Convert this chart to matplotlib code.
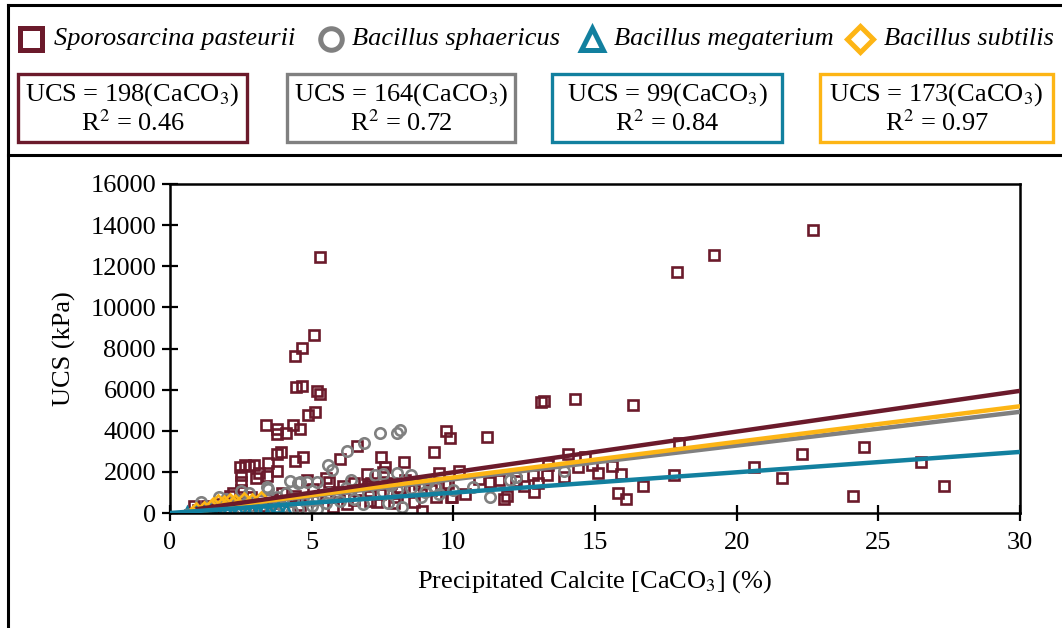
import matplotlib
matplotlib.use('Agg')
import matplotlib.pyplot as plt
from matplotlib.lines import Line2D
from matplotlib.patches import Rectangle
import numpy as np

plt.rcParams['font.family'] = ['Liberation Serif', 'DejaVu Serif']
plt.rcParams['mathtext.fontset'] = 'stix'

# Sporosarcina pasteurii (squares)
sp_x = [5.3, 5.08, 4.66, 4.41, 4.45, 4.66, 5.2, 5.3, 4.87, 5.1,
        3.4, 3.78, 3.78, 4.1, 4.35, 4.6,
        3.78, 3.9, 4.4, 4.7, 3.45, 3.77,
        2.47, 2.65, 2.8, 2.97, 3.14, 3.04, 3.42, 2.5, 2.5, 2.5, 2.53, 2.22, 2.12, 2.85,
        4.84, 4.4, 3.95, 3.53, 3.18, 0.85, 1.3, 1.76, 2.65, 5.05,
        6.0, 6.6, 7.45, 7.6, 8.26, 9.3, 9.74, 9.88, 5.5, 8.9,
        5.6, 6.1, 6.5, 6.95, 7.1, 7.5, 7.8, 8.1, 8.6, 8.6, 9.4, 9.8, 9.95, 9.5,
        5.75, 6.25, 7.06, 7.9, 7.3,
        11.2, 13.1, 13.2, 14.3, 16.35, 17.9, 19.2, 22.7,
        17.97, 17.8, 20.6, 21.6, 22.3, 24.5, 24.1, 26.5, 27.3,
        14.05, 13.9, 14.4, 14.65, 14.9, 15.1, 15.6, 15.9, 15.8, 16.1, 16.7,
        10.2, 9.7, 9.9, 10.4, 10.9, 11.3, 11.6, 11.9, 11.8, 12.2, 12.8, 12.85,
        13.0, 13.3, 13.35, 12.5,
        5.9, 6.3, 6.7, 7.0, 7.4, 8.0, 8.3, 8.8, 9.2, 3.6, 4.2, 4.6, 5.2, 5.5,
        6.5, 1.0, 1.5, 2.0, 2.8, 3.2]
sp_y = [12440, 8650, 8020, 7630, 6120, 6200, 5950, 5800, 4760, 4910,
        4280, 4080, 3840, 3890, 4280, 4080,
        2870, 2960, 2530, 2720, 2430, 2040,
        2230, 2330, 2280, 2330, 1940, 1700, 1800, 1850, 1510, 1120, 780, 970, 830, 780,
        1600, 830, 970, 680, 650, 340, 340, 440, 490, 1170,
        2620, 3260, 2720, 2230, 2480, 2960, 3980, 3640, 1700, 100,
        1500, 1310, 1460, 1890, 1460, 2000, 1460, 1210, 1120, 530, 780, 1460, 780, 1940,
        290, 440, 580, 500, 520,
        3690, 5400, 5450, 5540, 5250, 11700, 12550, 13750,
        3400, 1850, 2230, 1700, 2850, 3200, 850, 2500, 1300,
        2870, 1750, 2240, 2720, 2330, 1940, 2280, 1900, 970, 680, 1310,
        2040, 1360, 780, 920, 1650, 1510, 1600, 830, 680, 1550, 1850, 1020,
        1450, 1850, 2330, 1300,
        1000, 900, 1100, 1300, 900, 800, 1600, 1400, 1100, 500, 600, 400, 700, 800,
        650, 150, 200, 250, 300, 350]

# Bacillus sphaericus (circles)
bs_x = [1.1, 1.73, 1.98, 2.5, 2.8, 3.42, 3.45, 4.24, 4.5, 5.2, 4.1, 3.78, 3.2, 4.85,
        4.35, 2.2, 1.5, 2.6, 1.9,
        7.4, 8.0, 8.1, 6.85, 6.25, 5.58, 5.7, 4.84, 7.24, 7.5, 8.0, 8.5, 9.35, 6.8,
        7.7, 8.2, 4.6, 5.05, 6.4, 8.86,
        10.7, 11.3, 12.0, 12.2, 13.9,
        2.0, 2.5, 3.0, 3.5, 4.0, 4.5, 5.0, 5.5, 6.0, 6.5, 7.0, 7.5, 8.0, 8.5, 9.0,
        9.5, 10.0, 6.2, 5.6, 7.8, 9.1, 3.7, 4.3, 5.2]
bs_y = [530, 780, 680, 1070, 970, 1260, 1150, 1560, 1460, 1510, 970, 800, 630, 650,
        650, 390, 300, 450, 400,
        3890, 3890, 4030, 3400, 3010, 2330, 2090, 1510, 1850, 1890, 1940, 1850, 1260, 440,
        500, 290, 1500, 630, 1600, 780,
        1260, 780, 1600, 1750, 2040,
        200, 250, 300, 400, 300, 200, 350, 500, 600, 700, 900, 1000, 1100, 1200, 1000,
        900, 1100, 1200, 950, 1350, 1500, 150, 100, 200]

# Bacillus megaterium (triangles)
bm_x = [0.6, 0.9, 1.2, 1.4, 1.7, 2.0, 2.2, 2.4, 2.7, 2.9, 3.1, 3.3, 3.5, 3.8, 4.1, 1.0]
bm_y = [30, 60, 40, 90, 70, 110, 60, 150, 120, 200, 90, 230, 160, 280, 200, 120]

# Bacillus subtilis (diamonds)
bsu_x = [0.9, 1.2, 1.5, 1.7, 1.9, 2.1, 2.3, 2.6, 2.9, 3.2]
bsu_y = [180, 250, 420, 600, 520, 640, 580, 700, 650, 750]

names = ['Sporosarcina pasteurii', 'Bacillus sphaericus', 'Bacillus megaterium', 'Bacillus subtilis']
colors = ['#6B1A2B', '#808080', '#12809F', '#FDB515']
markers = ['s', 'o', '^', 'D']
slopes = [198, 164, 99, 173]
r2 = ['0.46', '0.72', '0.84', '0.97']
line_start = [0.9, 0.5, 0.0, 0.7]

W, H = 1062, 628
fig = plt.figure(figsize=(10.62, 6.28), dpi=100)
ax = fig.add_axes([170 / W, 1 - 513 / H, 850 / W, 329 / H])

xs = [sp_x, bs_x, bm_x, bsu_x]
ys = [sp_y, bs_y, bm_y, bsu_y]
for i in range(4):
    ms = 7.5 if markers[i] != 'D' else 6.5
    ax.plot(xs[i], ys[i], linestyle='none', marker=markers[i], ms=ms, mfc='none',
            mec=colors[i], mew=1.9, zorder=2 + i * 0.1)

# linear fits through the origin
for i in [1, 3, 0, 2]:
    lx = np.array([line_start[i], 30])
    ax.plot(lx, slopes[i] * lx, color=colors[i], lw=3.2, zorder=4, solid_capstyle='butt')

ax.set_xlim(0, 30)
ax.set_ylim(0, 16000)
ax.set_xticks([0, 5, 10, 15, 20, 25, 30])
ax.set_yticks(np.arange(0, 16001, 2000))
ax.tick_params(direction='inout', length=12, width=1.6, labelsize=19, pad=4)
ax.tick_params(axis='x', pad=8)
for s in ax.spines.values():
    s.set_linewidth(1.8)
ax.set_xlabel('Precipitated Calcite [CaCO$_3$] (%)', fontsize=19, labelpad=10)
ax.set_ylabel('UCS (kPa)', fontsize=19, labelpad=10)

# outer frame lines
fig.add_artist(Line2D([8 / W, 8 / W], [0, 1 - 5 / H], color='black', lw=2.2, transform=fig.transFigure))
fig.add_artist(Line2D([8 / W, 1], [1 - 5 / H, 1 - 5 / H], color='black', lw=2.2, transform=fig.transFigure))
fig.add_artist(Line2D([8 / W, 1], [1 - 155 / H, 1 - 155 / H], color='black', lw=2.2, transform=fig.transFigure))

# legend row
mk_x = [31, 331, 592, 860]
tx_x = [54, 352, 614, 884]
for i in range(4):
    msz = 15.5 if markers[i] != 'D' else 13.5
    fig.add_artist(Line2D([mk_x[i] / W], [1 - 39 / H], marker=markers[i], ms=msz, mfc='white',
                          mec=colors[i], mew=3.6, linestyle='none', transform=fig.transFigure))
    fig.text(tx_x[i] / W, 1 - 39 / H, names[i], fontsize=19, style='italic',
             ha='left', va='center')

# equation boxes
box_l = [18, 287, 552, 820]
box_r = [247, 515, 782, 1053]
for i in range(4):
    fig.add_artist(Rectangle((box_l[i] / W, 1 - 142 / H), (box_r[i] - box_l[i]) / W, 68 / H,
                             fill=False, edgecolor=colors[i], lw=2.4, transform=fig.transFigure))
    cx = (box_l[i] + box_r[i]) / 2 / W
    fig.text(cx, 1 - 95 / H, 'UCS = %d(CaCO$_3$)' % slopes[i], fontsize=19, ha='center', va='center')
    fig.text(cx, 1 - 123 / H, 'R$^2$ = ' + r2[i], fontsize=19, ha='center', va='center')

fig.savefig('out.png', dpi=100)
